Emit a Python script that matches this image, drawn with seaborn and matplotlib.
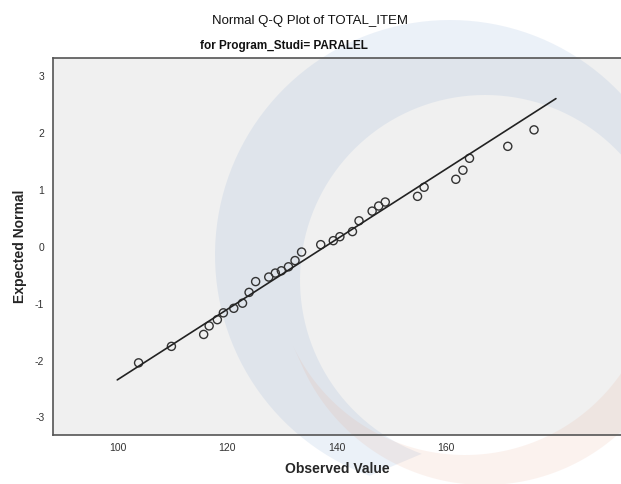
import numpy as np
import pandas as pd
import matplotlib
matplotlib.use('Agg')
import matplotlib.pyplot as plt
from matplotlib.path import Path
from matplotlib.patches import PathPatch, Rectangle
import seaborn as sns

observed = [103.8, 109.8, 115.7, 116.7, 118.2, 119.3, 121.2, 122.8, 124.0, 125.2,
            127.6, 128.8, 129.9, 131.2, 132.4, 133.6, 137.1, 139.4, 140.6, 142.9,
            144.1, 146.5, 147.7, 148.9, 154.8, 156.0, 161.8, 163.1, 164.3, 171.3,
            176.1]
expected = [-2.04, -1.75, -1.54, -1.39, -1.28, -1.16, -1.08, -0.99, -0.80, -0.61,
            -0.53, -0.46, -0.42, -0.35, -0.24, -0.09, 0.04, 0.11, 0.18, 0.27,
            0.46, 0.63, 0.72, 0.79, 0.89, 1.05, 1.19, 1.35, 1.56, 1.77,
            2.06]
line_x = [99.9, 180.1]
line_y = [-2.34, 2.61]
x_ticks = [100, 120, 140, 160]
y_ticks = [-3, -2, -1, 0, 1, 2, 3]

df = pd.DataFrame({'Observed Value': observed, 'Expected Normal': expected})
df_line = pd.DataFrame({'x': line_x, 'y': line_y})

sns.set_style('white')
plt.rcParams['font.family'] = ['Liberation Sans', 'DejaVu Sans']
plt.rcParams['axes.unicode_minus'] = False


def crescent(c1, r1, c2, r2, t0, t1, n=120):
    # band between two circles, swept from angle t0 to t1 (degrees, y down)
    t = np.radians(np.linspace(t0, t1, n))
    outer = np.c_[c1[0] + r1 * np.cos(t), c1[1] - r1 * np.sin(t)]
    inner = np.c_[c2[0] + r2 * np.cos(t[::-1]), c2[1] - r2 * np.sin(t[::-1])]
    verts = np.vstack([outer, inner, outer[:1]])
    codes = [Path.MOVETO] + [Path.LINETO] * (len(verts) - 2) + [Path.CLOSEPOLY]
    return Path(verts, codes)


fig = plt.figure(figsize=(6.21, 4.84), dpi=100)

# background + faint watermark, in pixel coordinates
bg = fig.add_axes([0, 0, 1, 1], zorder=0)
bg.set_xlim(0, 621)
bg.set_ylim(484, 0)
bg.axis('off')
bg.add_patch(Rectangle((52.7, 57.7), 621 - 52.7, 435 - 57.7, facecolor='#f0f0f0',
                       edgecolor='none'))
bg.add_patch(PathPatch(crescent((450, 255), 235, (485, 280), 185, -30, 250),
                       facecolor='#7fa3d3', edgecolor='none', alpha=0.15))
bg.add_patch(PathPatch(crescent((485, 285), 200, (465, 265), 190, 205, 345),
                       facecolor='#e8a58a', edgecolor='none', alpha=0.14))

ax = fig.add_axes([0.0849, 0.1012, 0.9151, 0.7796], zorder=1)
ax.patch.set_alpha(0)

sns.lineplot(data=df_line, x='x', y='y', ax=ax, color='#222222', linewidth=1.2)
sns.scatterplot(data=df, x='Observed Value', y='Expected Normal', ax=ax,
                marker='o', s=34, facecolor='none', edgecolor='#333333', linewidth=1.0)

ax.set_xlim(88.1, 192)
ax.set_ylim(-3.31, 3.33)
ax.set_xticks(x_ticks)
ax.set_yticks(y_ticks)
ax.tick_params(axis='both', direction='out', length=5, width=1, color='#444444',
               labelsize=7.5, labelcolor='#333333', pad=1)
for side in ['left', 'bottom', 'top']:
    ax.spines[side].set_color('#555555')
    ax.spines[side].set_linewidth(1.2)
ax.spines['right'].set_visible(False)

ax.set_xlabel('Observed Value', fontsize=10, fontweight='bold', labelpad=6)
ax.set_ylabel('Expected Normal', fontsize=10, fontweight='bold', labelpad=6)

fig.text(0.499, 0.957, 'Normal Q-Q Plot of TOTAL_ITEM', ha='center', va='center',
         fontsize=9.5, color='#111111')
fig.text(0.457, 0.905, 'for Program_Studi= PARALEL', ha='center', va='center',
         fontsize=8.5, fontweight='bold', color='#111111')

fig.savefig('out.png', dpi=100)
